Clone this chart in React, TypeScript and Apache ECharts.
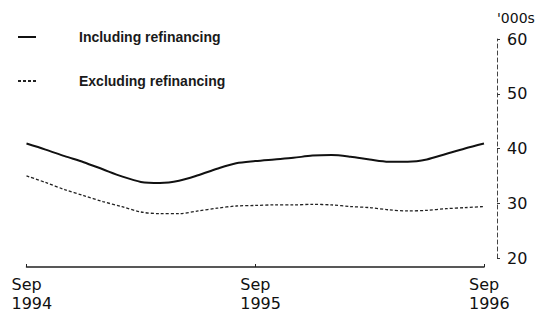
import React, { useEffect, useRef } from "react";
import * as echarts from "echarts";

const months = [
  "Sep 1994", "Oct 1994", "Nov 1994", "Dec 1994", "Jan 1995", "Feb 1995", "Mar 1995",
  "Apr 1995", "May 1995", "Jun 1995", "Jul 1995", "Aug 1995", "Sep 1995", "Oct 1995",
  "Nov 1995", "Dec 1995", "Jan 1996", "Feb 1996", "Mar 1996", "Apr 1996", "May 1996",
  "Jun 1996", "Jul 1996", "Aug 1996", "Sep 1996",
];

const includingRefinancing = [
  40.9, 39.8, 38.6, 37.5, 36.2, 34.9, 33.9, 33.7, 34.1, 35.1, 36.3, 37.3, 37.7,
  38.0, 38.3, 38.7, 38.8, 38.5, 38.0, 37.6, 37.6, 38.0, 39.0, 40.0, 40.9,
];

const excludingRefinancing = [
  35.0, 33.8, 32.5, 31.4, 30.3, 29.4, 28.4, 28.1, 28.1, 28.6, 29.1, 29.5, 29.6,
  29.7, 29.7, 29.8, 29.7, 29.4, 29.2, 28.8, 28.6, 28.7, 29.0, 29.2, 29.4,
];

const seriesNames = ["Including refinancing", "Excluding refinancing"];
const yUnit = "'000s";

export default function App() {
  const ref = useRef<HTMLDivElement>(null);
  useEffect(() => {
    if (!ref.current) return;
    const chart = echarts.init(ref.current, null, { renderer: "svg" });
    chart.setOption({
      animation: false,
      backgroundColor: "#ffffff",
      textStyle: { fontFamily: "DejaVu Sans" },
      grid: { left: 26.5, right: 58, top: 39, bottom: 55 },
      legend: {
        orient: "vertical",
        left: 17,
        top: 29,
        padding: 0,
        itemWidth: 18,
        itemHeight: 10,
        itemGap: 28,
        data: seriesNames,
        itemStyle: { opacity: 0 },
        textStyle: {
          fontFamily: "Liberation Sans",
          fontSize: 14,
          fontWeight: "bold",
          color: "#1a1a1a",
          lineHeight: 16,
          padding: [0, 0, 0, 38],
        },
      },
      xAxis: {
        type: "category",
        data: months,
        boundaryGap: false,
        offset: 9,
        axisLine: { lineStyle: { color: "#222", width: 1.5 } },
        axisTick: { inside: true, length: 3, interval: 11, lineStyle: { color: "#222" } },
        axisLabel: {
          interval: 11,
          align: "left",
          padding: [0, 0, 0, -15],
          margin: 8,
          fontSize: 16,
          lineHeight: 19,
          color: "#111",
          fontFamily: "DejaVu Sans",
          formatter: (v: string) => v.replace(" ", "\n"),
        },
      },
      yAxis: {
        type: "value",
        position: "right",
        offset: 13,
        min: 20,
        max: 60,
        interval: 10,
        name: yUnit,
        nameLocation: "end",
        nameGap: 14,
        nameTextStyle: {
          align: "left",
          fontSize: 14,
          color: "#111",
          fontFamily: "DejaVu Sans",
        },
        axisLine: { show: true, lineStyle: { color: "#444", width: 1, type: [4, 3] } },
        axisTick: { show: true, length: 3, lineStyle: { color: "#333" } },
        axisLabel: { margin: 10, fontSize: 16, color: "#111", fontFamily: "DejaVu Sans" },
        splitLine: { show: false },
      },
      series: [
        {
          name: seriesNames[0],
          type: "line",
          data: includingRefinancing,
          smooth: 0.3,
          symbol: "none",
          lineStyle: { color: "#111", width: 2 },
          itemStyle: { color: "#111" },
        },
        {
          name: seriesNames[1],
          type: "line",
          data: excludingRefinancing,
          smooth: 0.3,
          symbol: "none",
          lineStyle: { color: "#222", width: 1.3, type: [3, 2] },
          itemStyle: { color: "#222" },
        },
      ],
    });
    return () => chart.dispose();
  }, []);
  return <div ref={ref} style={{ width: 542, height: 313, position: "absolute", left: 0, top: 0 }} />;
}
